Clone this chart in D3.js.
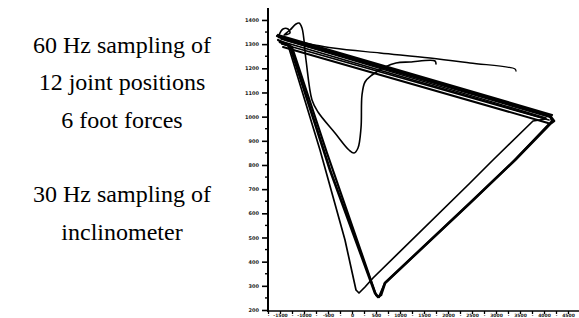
<!DOCTYPE html>
<html><head><meta charset="utf-8">
<script src="https://cdn.jsdelivr.net/npm/d3@7"></script>
<style>html,body{margin:0;padding:0;background:#fff;}svg{display:block;}</style>
</head><body>
<script>
// ---- text ----
const leftLabels = ["60 Hz sampling of", "12 joint positions", "6 foot forces", "", "30 Hz sampling of", "inclinometer"];

// ---- axis tick labels (illegible in source, approximated) ----
const yTickLabels = ["1400","1300","1200","1100","1000","900","800","700","600","500","400","300","200"];
const xTickLabels = ["-1500","-1000","-500","0","500","1000","1500","2000","2500","3000","3500","4000","4500"];

// ---- trajectories (data units: x 0..311, y 0..301) ----
const cycleAX = [11, 147, 283, 286, 282, 247, 202, 117, 113, 110, 107, 62, 22, 12];
const cycleAY = [274, 234, 194, 190, 187, 151, 108, 28, 16, 14, 18, 141, 265, 269];

const cycleBX = [12, 278, 265, 225, 202, 105, 97, 91, 88, 77, 52, 20, 14];
const cycleBY = [270, 192, 190, 151, 128, 33, 24, 18, 21, 71, 161, 266, 267];

const cycleCX = [9, 282, 284, 247, 202, 117, 111, 108, 59, 24, 10];
const cycleCY = [275, 195, 190, 151, 108, 28, 14, 16, 158, 264, 271];

const bandX1 = [15, 280];
const bandY1 = [264, 188];
const bandX2 = [14, 281];
const bandY2 = [267, 191];
const bandX3 = [17, 278];
const bandY3 = [271, 193];
const bandX4 = [10, 284];
const bandY4 = [276, 196];
const bandX5 = [13, 280];
const bandY5 = [272, 196];

const peakX = [11, 15, 20, 22, 16, 22, 28, 31, 34, 38, 44, 50, 67, 81, 86, 90, 93, 94, 97, 104, 117, 128, 142, 167, 168];
const peakY = [276, 282, 282, 278, 276, 281, 287, 288, 283, 251, 211, 199, 178, 161, 158, 163, 183, 216, 229, 236, 244, 248, 249, 250, 247];

const topX = [20, 65, 112, 162, 202, 247, 248];
const topY = [271, 263, 258, 253, 248, 242, 240];

const W = 579, H = 318;
const svg = d3.select("body").append("svg").attr("width", W).attr("height", H);

const x = d3.scaleLinear().domain([0, 311]).range([268, 579]);
const y = d3.scaleLinear().domain([0, 301]).range([311, 10]);

// left text
svg.append("g").selectAll("text").data(leftLabels).join("text")
  .attr("x", 122).attr("y", (d, i) => 53 + i * 37.3)
  .attr("text-anchor", "middle")
  .attr("font-family", "'Liberation Serif', 'Times New Roman', serif")
  .attr("font-size", 24).attr("fill", "#000")
  .text(d => d);

// y axis
const yMajor = d3.range(yTickLabels.length).map(i => 1 + i * 24.17);
const yAxis = d3.axisLeft(y).tickValues(yMajor).tickSize(6).tickFormat((d, i) => yTickLabels[yTickLabels.length - 1 - i]);
const gy = svg.append("g").attr("transform", `translate(${x(0)},0)`).call(yAxis);
gy.select(".domain").attr("stroke", "#000").attr("stroke-width", 2).attr("d", `M0,${y(-1)}V${y(303)}`);
gy.selectAll(".tick line").attr("stroke-width", 1.6);
gy.selectAll(".tick text").attr("font-size", 5).attr("font-family", "'DejaVu Sans', sans-serif").attr("fill", "#222").attr("x", -9).attr("font-weight", "bold");
const yMinor = d3.range(yTickLabels.length - 1).map(i => 1 + i * 24.17 + 12.08);
svg.append("g").selectAll("line").data(yMinor).join("line")
  .attr("x1", x(0) - 3).attr("x2", x(0)).attr("y1", d => y(d)).attr("y2", d => y(d))
  .attr("stroke", "#000").attr("stroke-width", 1.4);

// x axis
const xMajor = d3.range(0, 312, 12);
const xAxis = d3.axisBottom(x).tickValues(xMajor).tickSize(3)
  .tickFormat((d, i) => i % 2 === 1 ? (xTickLabels[(i - 1) / 2] || "") : "·");
const gx = svg.append("g").attr("transform", `translate(0,${y(0)})`).call(xAxis);
gx.select(".domain").attr("stroke", "#000").attr("stroke-width", 1.6).attr("d", `M${x(-1)},0H${x(311)}`);
gx.selectAll(".tick line").attr("stroke-width", 1.3);
gx.selectAll(".tick text").attr("font-size", 4.5).attr("font-family", "'DejaVu Sans', sans-serif").attr("fill", "#222").attr("y", 2.5).attr("font-weight", "bold");

// trajectories
const line = d3.line().x(d => x(d[0])).y(d => y(d[1])).curve(d3.curveCatmullRom.alpha(0.5));
const lineStraight = d3.line().x(d => x(d[0])).y(d => y(d[1]));
const series = [
  {xs: cycleAX, ys: cycleAY, w: 2.6, c: false},
  {xs: cycleBX, ys: cycleBY, w: 1.7, c: false},
  {xs: cycleCX, ys: cycleCY, w: 2.2, c: false},
  {xs: bandX1, ys: bandY1, w: 2.0, c: false},
  {xs: bandX2, ys: bandY2, w: 1.6, c: false},
  {xs: bandX3, ys: bandY3, w: 1.6, c: false},
  {xs: bandX4, ys: bandY4, w: 2.2, c: false},
  {xs: bandX5, ys: bandY5, w: 1.5, c: false},
  {xs: peakX, ys: peakY, w: 1.6, c: true},
  {xs: topX, ys: topY, w: 1.3, c: true}
];
svg.append("g").selectAll("path").data(series).join("path")
  .attr("d", s => (s.c ? line : lineStraight)(s.xs.map((v, i) => [v, s.ys[i]])))
  .attr("fill", "none").attr("stroke", "#000")
  .attr("stroke-width", s => s.w).attr("stroke-linejoin", "round").attr("stroke-linecap", "round");
</script>
</body></html>
